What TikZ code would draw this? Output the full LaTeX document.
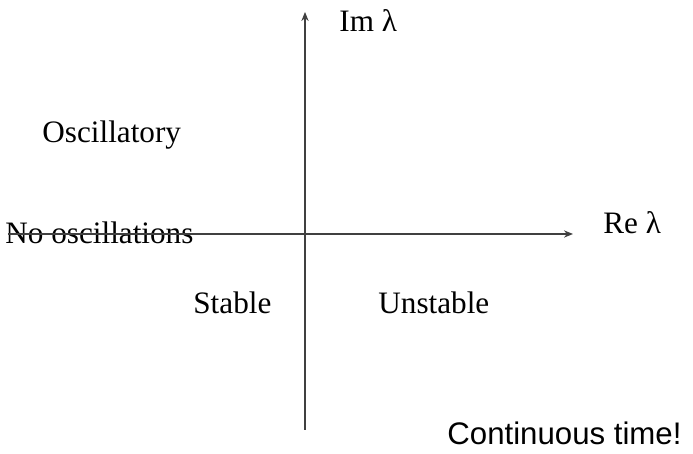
\documentclass[tikz,border=0pt]{standalone}
\usepackage{fontspec}
\setmainfont{Liberation Serif}
\newfontfamily\arialfont{Liberation Sans}
\usetikzlibrary{arrows.meta}
\begin{document}
\begin{tikzpicture}[x=0.5pt,y=-0.5pt,
  lbl/.style={inner sep=0pt,anchor=base west,font=\fontsize{15.6}{18}\selectfont},
  axis/.style={draw=black!75,line width=0.6pt,-{Stealth[length=4.5pt,width=3.6pt]}}]
\useasboundingbox (0,0) rectangle (693,454);
\coordinate (vb) at (305,430);
\coordinate (vt) at (305,12);
\coordinate (hl) at (8,234);
\coordinate (hr) at (573,234);
\node[lbl] (im) at (339,32) {Im λ};
\node[lbl] (re) at (603,234) {Re λ};
\node[lbl] (osc) at (42,143) {Oscillatory};
\node[lbl] (noosc) at (5,244) {No oscillations};
\node[lbl] (st) at (193,314) {Stable};
\node[lbl] (un) at (378,314) {Unstable};
\node[lbl,font=\arialfont\fontsize{15.6}{18}\selectfont] (ct) at (447,445) {Continuous time!};
\draw[axis] (vb) -- (vt);
\draw[axis] (hl) -- (hr);
\end{tikzpicture}
\end{document}
